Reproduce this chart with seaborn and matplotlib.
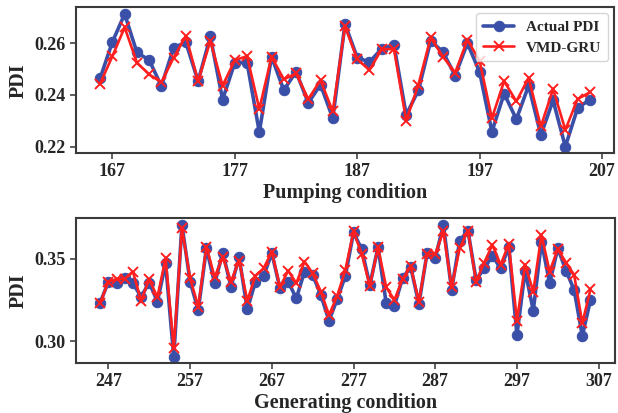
import numpy as np
import pandas as pd
import matplotlib
matplotlib.use("Agg")
import matplotlib.pyplot as plt
import seaborn as sns

# pumping condition samples 166..206
pump_x = list(range(166, 207))
pump_actual = [0.2465, 0.2605, 0.2713, 0.2564, 0.2535, 0.2434, 0.2583, 0.2603, 0.2453, 0.2626,
               0.2382, 0.2525, 0.2525, 0.2256, 0.2548, 0.2418, 0.2490, 0.2369, 0.2440, 0.2310,
               0.2674, 0.2544, 0.2527, 0.2579, 0.2593, 0.2323, 0.2418, 0.2609, 0.2566, 0.2475,
               0.2600, 0.2488, 0.2258, 0.2405, 0.2306, 0.2436, 0.2245, 0.2379, 0.2200, 0.2349,
               0.2382]
pump_pred = [0.2444, 0.2550, 0.2661, 0.2525, 0.2479, 0.2449, 0.2544, 0.2628, 0.2453, 0.2609,
             0.2436, 0.2534, 0.2550, 0.2345, 0.2548, 0.2460, 0.2483, 0.2384, 0.2457, 0.2336,
             0.2665, 0.2538, 0.2496, 0.2577, 0.2577, 0.2301, 0.2440, 0.2622, 0.2548, 0.2486,
             0.2613, 0.2531, 0.2310, 0.2453, 0.2375, 0.2466, 0.2278, 0.2423, 0.2265, 0.2384,
             0.2410]

# generating condition samples 246..306
gen_x = list(range(246, 307))
gen_actual = [0.3235, 0.3362, 0.3352, 0.3383, 0.3352, 0.3271, 0.3356, 0.3241, 0.3474, 0.2907,
              0.3706, 0.3362, 0.3190, 0.3565, 0.3352, 0.3538, 0.3332, 0.3510, 0.3195, 0.3362,
              0.3397, 0.3535, 0.3322, 0.3362, 0.3261, 0.3423, 0.3403, 0.3281, 0.3126, 0.3255,
              0.3397, 0.3660, 0.3559, 0.3342, 0.3571, 0.3231, 0.3215, 0.3383, 0.3450, 0.3227,
              0.3535, 0.3504, 0.3706, 0.3312, 0.3611, 0.3672, 0.3373, 0.3443, 0.3518, 0.3443,
              0.3571, 0.3039, 0.3429, 0.3186, 0.3605, 0.3352, 0.3565, 0.3429, 0.3312, 0.3033,
              0.3251]
gen_pred = [0.3233, 0.3362, 0.3377, 0.3380, 0.3423, 0.3247, 0.3377, 0.3267, 0.3504, 0.2958,
            0.3686, 0.3383, 0.3210, 0.3575, 0.3389, 0.3510, 0.3362, 0.3490, 0.3247, 0.3397,
            0.3443, 0.3544, 0.3328, 0.3429, 0.3352, 0.3484, 0.3413, 0.3302, 0.3160, 0.3275,
            0.3433, 0.3666, 0.3530, 0.3336, 0.3571, 0.3328, 0.3251, 0.3377, 0.3454, 0.3241,
            0.3530, 0.3530, 0.3666, 0.3328, 0.3565, 0.3672, 0.3362, 0.3478, 0.3585, 0.3464,
            0.3591, 0.3126, 0.3464, 0.3302, 0.3646, 0.3423, 0.3559, 0.3478, 0.3403, 0.3110,
            0.3316]

pump_ticks = [167, 177, 187, 197, 207]
gen_ticks = [247, 257, 267, 277, 287, 297, 307]

BLUE = "#3a50a8"
RED = "#ff1f1f"

sns.set_style("ticks")
plt.rcParams["font.family"] = ["Liberation Serif", "DejaVu Serif"]
plt.rcParams["font.weight"] = "bold"

fig = plt.figure(figsize=(6.18, 4.13), dpi=100)
ax1 = fig.add_axes([75.7 / 618, 1 - 153.3 / 413, (614.3 - 75.7) / 618, (153.3 - 7.3) / 413])
ax2 = fig.add_axes([75.7 / 618, 1 - 363.3 / 413, (615 - 75.7) / 618, (363.3 - 218.3) / 413])


def draw(ax, x, actual, pred, ticks, xlim, yticks, xlabel, legend):
    sns.lineplot(x=x, y=actual, ax=ax, color=BLUE, marker="o", markersize=7.5,
                 markeredgecolor=BLUE, linewidth=2.6, label="Actual PDI", legend=False)
    sns.lineplot(x=x, y=pred, ax=ax, color=RED, marker="x", markersize=7,
                 markeredgewidth=1.4, markeredgecolor=RED, linewidth=1.9,
                 label="VMD-GRU", legend=False)
    ax.set_xlim(*xlim)
    ax.set_xticks(ticks)
    ax.set_yticks(yticks)
    ax.set_xlabel(xlabel, fontsize=14.5, fontweight="bold", labelpad=2)
    ax.set_ylabel("PDI", fontsize=14.5, fontweight="bold", labelpad=4)
    ax.tick_params(labelsize=13, length=4, width=1.2, color="#444444", pad=3)
    for lab in ax.get_xticklabels() + ax.get_yticklabels():
        lab.set_fontweight("bold")
    for sp in ax.spines.values():
        sp.set_visible(True)
        sp.set_linewidth(1.5)
        sp.set_color("#3a3a3a")
    if legend:
        leg = ax.legend(loc="upper right", fontsize=11, frameon=True, fancybox=True,
                        borderpad=0.45, handlelength=2.0, labelspacing=0.45,
                        borderaxespad=0.4)
        for t in leg.get_texts():
            t.set_fontweight("bold")


draw(ax1, pump_x, pump_actual, pump_pred, pump_ticks, (164, 208),
     [0.22, 0.24, 0.26], "Pumping condition", True)
ax1.set_yticklabels(["0.22", "0.24", "0.26"])
draw(ax2, gen_x, gen_actual, gen_pred, gen_ticks, (243, 309),
     [0.30, 0.35], "Generating condition", False)
ax2.set_yticklabels(["0.30", "0.35"])
for lab in ax1.get_yticklabels() + ax2.get_yticklabels():
    lab.set_fontweight("bold")

fig.savefig("out.png", dpi=100)
